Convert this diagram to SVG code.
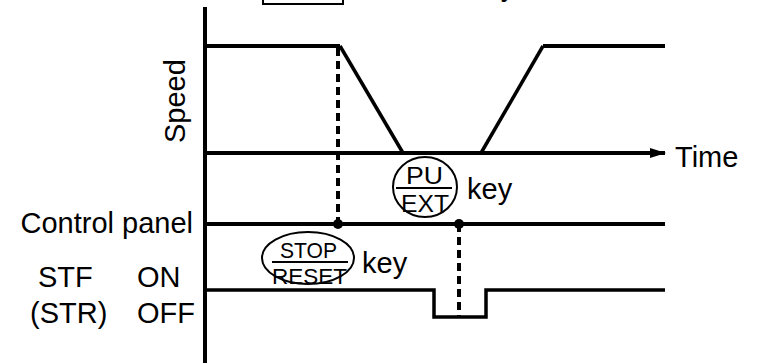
<svg xmlns="http://www.w3.org/2000/svg" width="762" height="363" viewBox="0 0 762 363">
<style>
.t{font-family:"Liberation Sans",Arial,sans-serif;fill:#000}
.lbl{font-size:29px}
.key{font-size:24px}
.key2{font-size:22px}
.ln{stroke:#000;stroke-width:4;fill:none}
.sl{stroke:#000;stroke-width:3.5;fill:none}
.dash{stroke:#000;stroke-width:4;fill:none;stroke-dasharray:8 5}
.frac{stroke:#000;stroke-width:2}
.shell{fill:#fff;stroke:#000;stroke-width:2}
</style>
<defs>
<marker id="arr" markerWidth="16" markerHeight="12" refX="15" refY="6" orient="auto" markerUnits="userSpaceOnUse">
<path d="M0,1 L16,6 L0,11 Z" fill="#000"/>
</marker>
</defs>
<g id="top-key">
<rect x="263" y="-30" width="80" height="34" class="shell"/>
<text class="t lbl" x="470" y="-4">key</text>
</g>
<g id="axes">
<line x1="205" y1="7" x2="205" y2="363" class="ln"/>
<line x1="205" y1="153" x2="665" y2="153" class="ln" marker-end="url(#arr)"/>
<text class="t lbl" x="675" y="167">Time</text>
<text class="t lbl" transform="translate(185,143) rotate(-90)">Speed</text>
</g>
<g id="connectors">
<polyline points="340,46 403,153" class="sl"/>
<line x1="205" y1="46" x2="340" y2="46" class="ln"/>
<polyline points="481,153 543,46" class="sl"/>
<line x1="543" y1="46" x2="665" y2="46" class="ln"/>
<line x1="205" y1="224" x2="665" y2="224" class="ln"/>
<polyline points="205,290 434,290 434,317 486,317 486,290 665,290" class="sl"/>
<line x1="338" y1="48" x2="338" y2="224" class="dash"/>
<line x1="459" y1="224" x2="459" y2="317" class="dash"/>
<circle cx="338" cy="224" r="5"/>
<circle cx="459" cy="224" r="5"/>
</g>
<g id="pu-ext-key">
<ellipse cx="425" cy="187" rx="32" ry="30" class="shell"/>
<text class="t key" x="406" y="184" textLength="37" lengthAdjust="spacingAndGlyphs">PU</text>
<line x1="396" y1="188" x2="452" y2="188" class="frac"/>
<text class="t key" x="401" y="212" textLength="48" lengthAdjust="spacingAndGlyphs">EXT</text>
<text class="t lbl" x="467" y="199">key</text>
</g>
<g id="stop-reset-key">
<ellipse cx="308" cy="258" rx="46" ry="26" class="shell"/>
<text class="t key2" x="280" y="258" textLength="57" lengthAdjust="spacingAndGlyphs">STOP</text>
<line x1="272" y1="262" x2="348" y2="262" class="frac"/>
<text class="t key2" x="272" y="284" textLength="75" lengthAdjust="spacingAndGlyphs">RESET</text>
<text class="t lbl" x="362" y="273">key</text>
</g>
<g id="labels">
<text class="t lbl" x="193" y="233" text-anchor="end">Control panel</text>
<text class="t lbl" x="38" y="287">STF</text>
<text class="t lbl" x="137" y="287">ON</text>
<text class="t lbl" x="30" y="323">(STR)</text>
<text class="t lbl" x="137" y="323">OFF</text>
</g>
</svg>
